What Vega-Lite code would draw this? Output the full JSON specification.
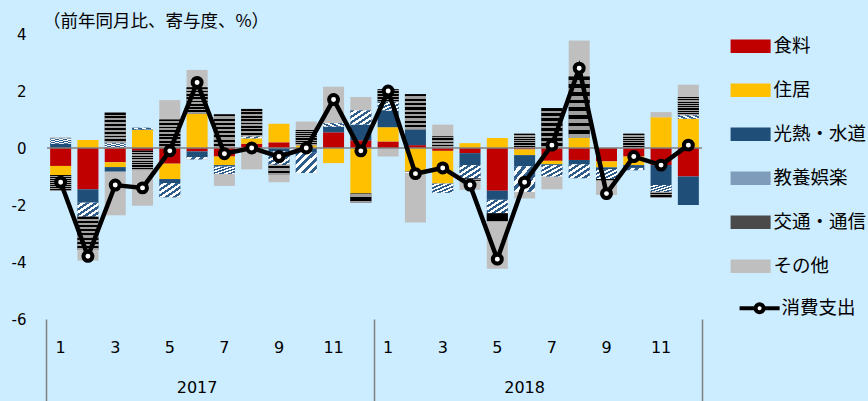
{
  "$schema": "https://vega.github.io/schema/vega-lite/v6.json",
  "width": 655,
  "height": 285,
  "autosize": "none",
  "padding": {"left": 47, "top": 34, "right": 166, "bottom": 82},
  "background": "#CCECFF",
  "title": {
    "text": "（前年同月比、寄与度、%）",
    "anchor": "start",
    "frame": "group",
    "font": "Noto Sans CJK JP",
    "fontSize": 17.5,
    "fontWeight": "normal",
    "color": "black",
    "baseline": "bottom",
    "offset": 4,
    "dx": -4,
    "dy": 25
  },
  "data": {
    "values": [
      {"t": "2017-1", "食料": -0.63, "住居": -0.32, "光熱・水道": 0.15, "教養娯楽": 0.18, "交通・通信": -0.55, "その他": 0.05, "消費支出": -1.2},
      {"t": "2017-2", "食料": -1.45, "住居": 0.28, "光熱・水道": -0.47, "教養娯楽": -0.49, "交通・通信": -1.17, "その他": -0.37, "消費支出": -3.8},
      {"t": "2017-3", "食料": -0.5, "住居": -0.17, "光熱・水道": -0.16, "教養娯楽": 0.17, "交通・通信": 1.07, "その他": -1.53, "消費支出": -1.3},
      {"t": "2017-4", "食料": -0.1, "住居": 0.63, "光熱・水道": 0.03, "教養娯楽": 0.05, "交通・通信": -0.68, "その他": -1.25, "消費支出": -1.4},
      {"t": "2017-5", "食料": -0.55, "住居": -0.54, "光熱・水道": -0.14, "教養娯楽": -0.5, "交通・通信": 1.0, "その他": 0.68, "消費支出": -0.1},
      {"t": "2017-6", "食料": -0.12, "住居": 1.2, "光熱・水道": -0.2, "教養娯楽": -0.08, "交通・通信": 0.93, "その他": 0.61, "消費支出": 2.3},
      {"t": "2017-7", "食料": -0.3, "住居": -0.3, "光熱・水道": -0.05, "教養娯楽": -0.26, "交通・通信": 1.18, "その他": -0.42, "消費支出": -0.2},
      {"t": "2017-8", "食料": 0.15, "住居": 0.19, "光熱・水道": 0, "教養娯楽": 0.07, "交通・通信": 0.96, "その他": -0.75, "消費支出": 0.0},
      {"t": "2017-9", "食料": 0.2, "住居": 0.65, "光熱・水道": -0.12, "教養娯楽": -0.47, "交通・通信": -0.35, "その他": -0.26, "消費支出": -0.3},
      {"t": "2017-10", "食料": -0.02, "住居": 0.1, "光熱・水道": -0.13, "教養娯楽": -0.73, "交通・通信": 0.53, "その他": 0.3, "消費支出": 0.0},
      {"t": "2017-11", "食料": 0.55, "住居": -0.53, "光熱・水道": 0.2, "教養娯楽": 0.12, "交通・通信": 0, "その他": 1.28, "消費支出": 1.7},
      {"t": "2017-12", "食料": 0.27, "住居": -1.6, "光熱・水道": 0.55, "教養娯楽": 0.5, "交通・通信": -0.32, "その他": 0.47, "消費支出": -0.1},
      {"t": "2018-1", "食料": 0.23, "住居": 0.5, "光熱・水道": 0.58, "教養娯楽": 0.32, "交通・通信": 0.43, "その他": -0.3, "消費支出": 2.0},
      {"t": "2018-2", "食料": 0.1, "住居": -0.83, "光熱・水道": 0.55, "教養娯楽": -0.05, "交通・通信": 1.24, "その他": -1.73, "消費支出": -0.9},
      {"t": "2018-3", "食料": -0.1, "住居": -1.15, "光熱・水道": 0, "教養娯楽": -0.32, "交通・通信": 0.41, "その他": 0.41, "消費支出": -0.7},
      {"t": "2018-4", "食料": -0.18, "住居": 0.17, "光熱・水道": -0.42, "教養娯楽": -0.47, "交通・通信": -0.08, "その他": -0.32, "消費支出": -1.3},
      {"t": "2018-5", "食料": -1.5, "住居": 0.35, "光熱・水道": -0.32, "教養娯楽": -0.47, "交通・通信": -0.29, "その他": -1.66, "消費支出": -3.9},
      {"t": "2018-6", "食料": -0.05, "住居": -0.2, "光熱・水道": -0.39, "教養娯楽": -0.9, "交通・通信": 0.5, "その他": -0.23, "消費支出": -1.2},
      {"t": "2018-7", "食料": -0.45, "住居": -0.12, "光熱・水道": -0.03, "教養娯楽": -0.4, "交通・通信": 1.4, "その他": -0.45, "消費支出": 0.1},
      {"t": "2018-8", "食料": -0.42, "住居": 0.35, "光熱・水道": -0.15, "教養娯楽": -0.49, "交通・通信": 2.16, "その他": 1.26, "消費支出": 2.8},
      {"t": "2018-9", "食料": -0.47, "住居": -0.21, "光熱・水道": -0.06, "教養娯楽": -0.35, "交通・通信": -0.06, "その他": -0.5, "消費支出": -1.6},
      {"t": "2018-10", "食料": -0.3, "住居": -0.3, "光熱・水道": -0.1, "教養娯楽": -0.08, "交通・通信": 0.5, "その他": 0, "消費支出": -0.3},
      {"t": "2018-11", "食料": -0.6, "住居": 1.08, "光熱・水道": -0.7, "教養娯楽": -0.24, "交通・通信": -0.2, "その他": 0.18, "消費支出": -0.6},
      {"t": "2018-12", "食料": -1.0, "住居": 1.03, "光熱・水道": -1.0, "教養娯楽": 0.12, "交通・通信": 0.64, "その他": 0.43, "消費支出": 0.1}
    ]
  },
  "layer": [
    {
      "transform": [
        {"fold": ["食料", "住居", "光熱・水道", "教養娯楽", "交通・通信", "その他"], "as": ["cat", "v"]},
        {"calculate": "indexof(['食料','住居','光熱・水道','教養娯楽','交通・通信','その他'], datum.cat)", "as": "ord"}
      ],
      "mark": {"type": "bar"},
      "encoding": {
        "x": {
          "field": "t", "type": "nominal", "title": null,
          "scale": {"domain": ["2017-1","2017-2","2017-3","2017-4","2017-5","2017-6","2017-7","2017-8","2017-9","2017-10","2017-11","2017-12","2018-1","2018-2","2018-3","2018-4","2018-5","2018-6","2018-7","2018-8","2018-9","2018-10","2018-11","2018-12"], "paddingInner": 0.23, "paddingOuter": 0.115},
          "axis": {"orient": "bottom", "labelExpr": "toNumber(split(datum.value,'-')[1]) % 2 == 1 ? split(datum.value,'-')[1] : ''", "labelPadding": 20, "labelOverlap": false}
        },
        "y": {
          "field": "v", "type": "quantitative", "stack": "zero", "title": null,
          "scale": {"domain": [-6, 4], "nice": false, "zero": false},
          "axis": {"values": [-6, -4, -2, 0, 2, 4], "labelExpr": "toString(datum.value)"}
        },
        "color": {
          "field": "cat", "type": "nominal",
          "scale": {
            "domain": ["食料", "住居", "光熱・水道", "教養娯楽", "交通・通信", "その他"],
            "range": ["#C00000", "#FFC000", "#1F4E79", "#7F9CBB", "#4A4A4A", "#BFBFBF"]
          },
          "legend": {
            "orient": "right",
            "offset": 23,
            "padding": 3,
            "title": null,
            "symbolType": "M-1,-1H5V1H-1Z",
            "symbolSize": 178,
            "symbolStrokeWidth": 0,
            "symbolOpacity": 1,
            "labelOffset": 27,
            "rowPadding": 25,
            "labelFont": "Noto Sans CJK JP",
            "labelFontSize": 18.5,
            "labelColor": "black"
          }
        },
        "order": {"field": "ord", "type": "quantitative"}
      }
    },
    {
      "transform": [
        {"fold": ["食料", "住居", "光熱・水道", "教養娯楽", "交通・通信", "その他"], "as": ["cat", "v"]},
        {"calculate": "indexof(['食料','住居','光熱・水道','教養娯楽','交通・通信','その他'], datum.cat)", "as": "ord"}
      ],
      "mark": {"type": "bar"},
      "encoding": {
        "x": {
          "field": "t", "type": "nominal", "title": null,
          "scale": {"domain": ["2017-1","2017-2","2017-3","2017-4","2017-5","2017-6","2017-7","2017-8","2017-9","2017-10","2017-11","2017-12","2018-1","2018-2","2018-3","2018-4","2018-5","2018-6","2018-7","2018-8","2018-9","2018-10","2018-11","2018-12"], "paddingInner": 0.23, "paddingOuter": 0.115},
          "axis": {"orient": "bottom", "values": ["2018-12"], "bandPosition": 1.1495, "labels": false, "ticks": true, "tickSize": 82, "tickColor": "#808080", "tickWidth": 1.5}
        },
        "y": {"field": "v", "type": "quantitative", "stack": "zero", "title": null, "scale": {"domain": [-6, 4], "nice": false, "zero": false}},
        "detail": {"field": "cat", "type": "nominal"},
        "order": {"field": "ord", "type": "quantitative"},
        "color": {
          "condition": [
            {"test": "datum.cat === '教養娯楽'", "value": {"gradient": "linear", "x1": 0, "y1": 0, "x2": 1, "y2": 1, "stops": [
              {"offset": 0, "color": "#2E5C8A"}, {"offset": 0.1, "color": "#2E5C8A"}, {"offset": 0.1, "color": "#FFFFFF"}, {"offset": 0.2, "color": "#FFFFFF"},
              {"offset": 0.2, "color": "#2E5C8A"}, {"offset": 0.3, "color": "#2E5C8A"}, {"offset": 0.3, "color": "#FFFFFF"}, {"offset": 0.4, "color": "#FFFFFF"},
              {"offset": 0.4, "color": "#2E5C8A"}, {"offset": 0.5, "color": "#2E5C8A"}, {"offset": 0.5, "color": "#FFFFFF"}, {"offset": 0.6, "color": "#FFFFFF"},
              {"offset": 0.6, "color": "#2E5C8A"}, {"offset": 0.7, "color": "#2E5C8A"}, {"offset": 0.7, "color": "#FFFFFF"}, {"offset": 0.8, "color": "#FFFFFF"},
              {"offset": 0.8, "color": "#2E5C8A"}, {"offset": 0.9, "color": "#2E5C8A"}, {"offset": 0.9, "color": "#FFFFFF"}, {"offset": 1, "color": "#FFFFFF"}
            ]}},
            {"test": "datum.cat === '交通・通信'", "value": {"gradient": "linear", "x1": 0, "y1": 0, "x2": 0, "y2": 1, "stops": [
              {"offset": 0, "color": "#000000"}, {"offset": 0.0625, "color": "#000000"}, {"offset": 0.0625, "color": "#A0A0A0"}, {"offset": 0.125, "color": "#A0A0A0"},
              {"offset": 0.125, "color": "#000000"}, {"offset": 0.1875, "color": "#000000"}, {"offset": 0.1875, "color": "#A0A0A0"}, {"offset": 0.25, "color": "#A0A0A0"},
              {"offset": 0.25, "color": "#000000"}, {"offset": 0.3125, "color": "#000000"}, {"offset": 0.3125, "color": "#A0A0A0"}, {"offset": 0.375, "color": "#A0A0A0"},
              {"offset": 0.375, "color": "#000000"}, {"offset": 0.4375, "color": "#000000"}, {"offset": 0.4375, "color": "#A0A0A0"}, {"offset": 0.5, "color": "#A0A0A0"},
              {"offset": 0.5, "color": "#000000"}, {"offset": 0.5625, "color": "#000000"}, {"offset": 0.5625, "color": "#A0A0A0"}, {"offset": 0.625, "color": "#A0A0A0"},
              {"offset": 0.625, "color": "#000000"}, {"offset": 0.6875, "color": "#000000"}, {"offset": 0.6875, "color": "#A0A0A0"}, {"offset": 0.75, "color": "#A0A0A0"},
              {"offset": 0.75, "color": "#000000"}, {"offset": 0.8125, "color": "#000000"}, {"offset": 0.8125, "color": "#A0A0A0"}, {"offset": 0.875, "color": "#A0A0A0"},
              {"offset": 0.875, "color": "#000000"}, {"offset": 0.9375, "color": "#000000"}, {"offset": 0.9375, "color": "#A0A0A0"}, {"offset": 1, "color": "#A0A0A0"}
            ]}}
          ],
          "value": "transparent"
        }
      }
    },
    {
      "data": {"values": [{"z": 0}]},
      "mark": {"type": "rule", "color": "#808080", "strokeWidth": 1.5},
      "encoding": {"y": {"field": "z", "type": "quantitative", "title": null, "scale": {"domain": [-6, 4], "nice": false, "zero": false}}}
    },
    {
      "mark": {"type": "line", "strokeWidth": 4.5, "color": "#000000"},
      "encoding": {
        "x": {
          "field": "t", "type": "nominal", "title": null,
          "scale": {"domain": ["2017-1","2017-2","2017-3","2017-4","2017-5","2017-6","2017-7","2017-8","2017-9","2017-10","2017-11","2017-12","2018-1","2018-2","2018-3","2018-4","2018-5","2018-6","2018-7","2018-8","2018-9","2018-10","2018-11","2018-12"], "paddingInner": 0.23, "paddingOuter": 0.115},
          "axis": {"orient": "bottom", "values": ["2017-6", "2018-6"], "labelExpr": "split(datum.value,'-')[0]", "labelDx": 13.65, "labelPadding": 60, "labelOverlap": false}
        },
        "y": {"field": "消費支出", "type": "quantitative", "title": null, "scale": {"domain": [-6, 4], "nice": false, "zero": false}}
      }
    },
    {
      "mark": {"type": "point", "shape": "circle", "filled": true, "fill": "#FFFFFF", "stroke": "#000000", "strokeWidth": 4, "size": 80, "opacity": 1},
      "encoding": {
        "x": {
          "field": "t", "type": "nominal", "title": null,
          "scale": {"domain": ["2017-1","2017-2","2017-3","2017-4","2017-5","2017-6","2017-7","2017-8","2017-9","2017-10","2017-11","2017-12","2018-1","2018-2","2018-3","2018-4","2018-5","2018-6","2018-7","2018-8","2018-9","2018-10","2018-11","2018-12"], "paddingInner": 0.23, "paddingOuter": 0.115},
          "axis": {"orient": "bottom", "values": ["2017-1", "2018-1"], "bandPosition": -0.1495, "labels": false, "ticks": true, "tickSize": 82, "tickColor": "#808080", "tickWidth": 1.5}
        },
        "y": {"field": "消費支出", "type": "quantitative", "title": null, "scale": {"domain": [-6, 4], "nice": false, "zero": false}}
      }
    },
    {
      "data": {"values": []},
      "mark": {"type": "point", "filled": false, "fill": "#FFFFFF", "stroke": "#000000", "strokeWidth": 4},
      "encoding": {
        "shape": {
          "datum": "消費支出", "type": "nominal",
          "scale": {"domain": ["消費支出"], "range": ["M-1,0H1.4M2.6,0H5M1.4,0A0.6,0.6 0 1,1 2.6,0A0.6,0.6 0 1,1 1.4,0Z"]},
          "legend": {
            "orient": "right",
            "offset": 7,
            "padding": 12,
            "title": null,
            "symbolSize": 178,
            "symbolStrokeWidth": 4,
            "symbolOpacity": 1,
            "labelOffset": 26,
            "labelFont": "Noto Sans CJK JP",
            "labelFontSize": 18.5,
            "labelColor": "black"
          }
        }
      }
    }
  ],
  "resolve": {"axis": {"x": "independent"}},
  "config": {
    "view": {"fill": "#FFFFFF", "stroke": null},
    "axis": {"domain": false, "ticks": false, "grid": false, "labelFont": "DejaVu Sans", "labelColor": "#000000"},
    "axisX": {"labelAngle": 0, "labelFontSize": 16},
    "axisY": {"labelFontSize": 15, "labelPadding": 21}
  }
}
